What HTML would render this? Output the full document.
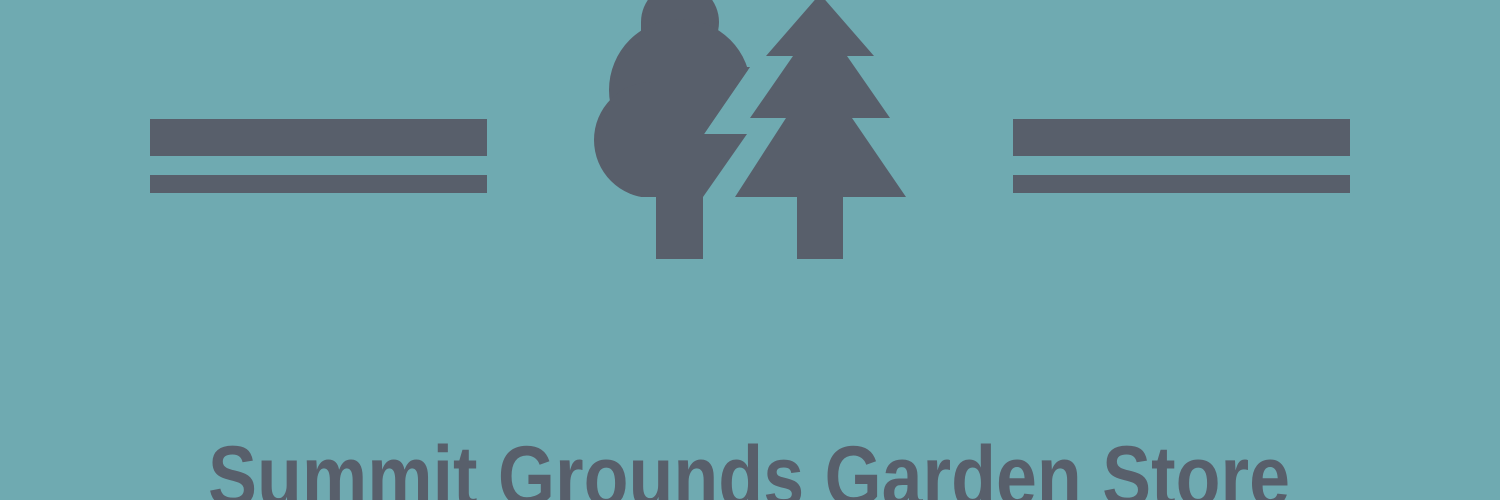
<!DOCTYPE html>
<html><head><meta charset="utf-8"><style>
html,body{margin:0;padding:0;width:1500px;height:500px;overflow:hidden;background:#6faab1}
</style></head><body>
<svg width="1500" height="500" viewBox="0 0 1500 500">
<rect width="1500" height="500" fill="#6faab1"/>
<g fill="#585f6b">
<rect x="150" y="119" width="337" height="37"/>
<rect x="150" y="175" width="337" height="18"/>
<rect x="1013" y="119" width="337" height="37"/>
<rect x="1013" y="175" width="337" height="18"/>
<clipPath id="cut"><polygon points="560,-10 796,0 704,134 747,134 703,197 560,197"/></clipPath>
<g clip-path="url(#cut)">
<circle cx="680" cy="22" r="39"/>
<rect x="641" y="22" width="77" height="40"/>
<circle cx="680" cy="90" r="71"/>
<circle cx="652" cy="140" r="58"/>
<rect x="652" y="67" width="150" height="130"/>
</g>
<rect x="656" y="196" width="47" height="63"/>
<polygon points="820,-6 874,56 847,56 890,118 852,118 906,197 735,197 786,118 750,118 793,56 766,56"/>
<rect x="797" y="196" width="46" height="63"/>
<text x="208" y="506" font-family="Liberation Sans, sans-serif" font-weight="bold" font-size="86" textLength="1082" lengthAdjust="spacingAndGlyphs">Summit Grounds Garden Store</text>
</g>
</svg>
</body></html>
